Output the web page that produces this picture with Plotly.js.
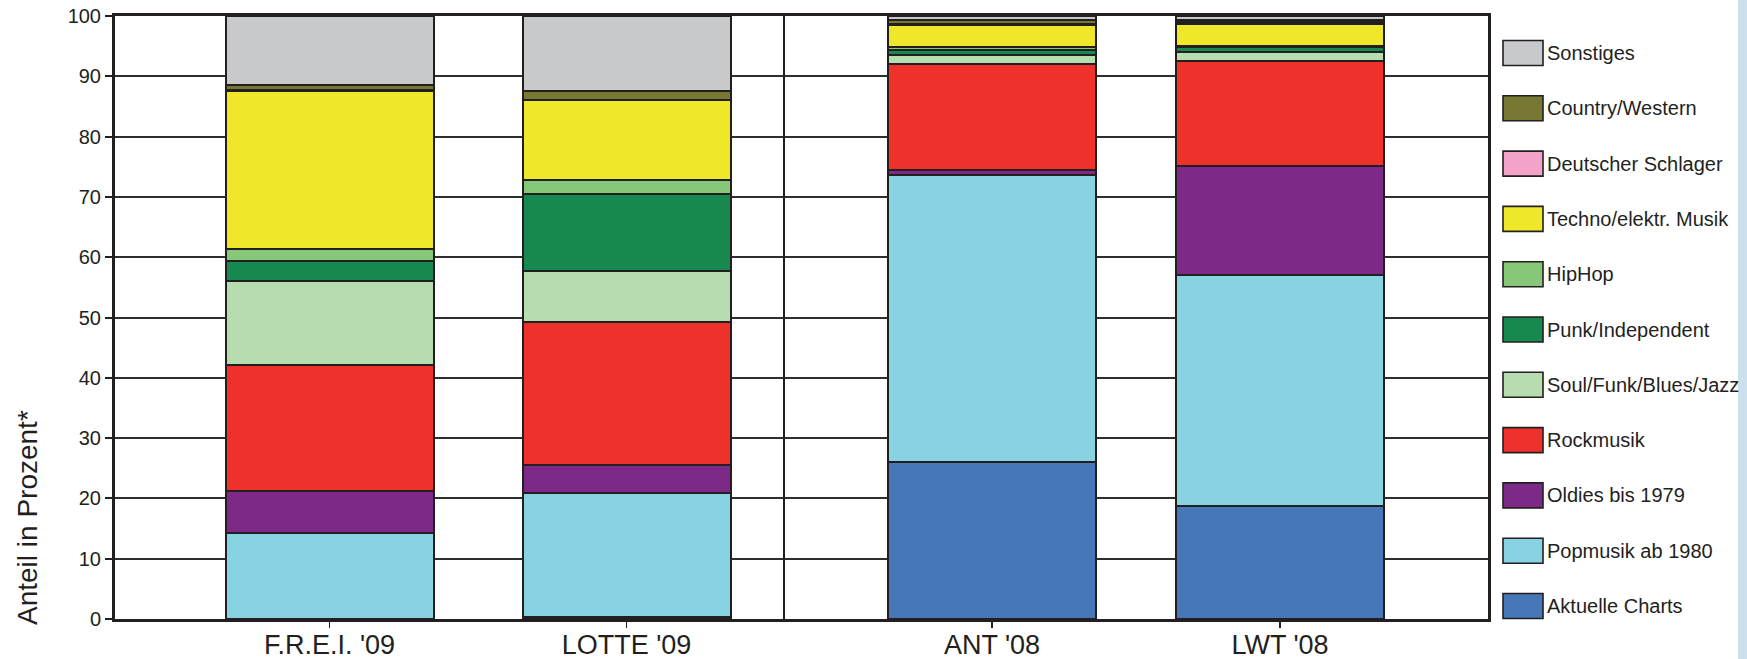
<!DOCTYPE html>
<html>
<head>
<meta charset="utf-8">
<script src="https://cdn.plot.ly/plotly-3.0.1.min.js"></script>
<style>
html,body{margin:0;padding:0;background:#fff;}
#chart{width:1747px;height:659px;}
</style>
</head>
<body>
<div id="chart"></div>
<script>
// ---- data ----
const categories = ["F.R.E.I. '09", "LOTTE '09", "ANT '08", "LWT '08"];
const seriesNames = [
  "Aktuelle Charts",
  "Popmusik ab 1980",
  "Oldies bis 1979",
  "Rockmusik",
  "Soul/Funk/Blues/Jazz",
  "Punk/Independent",
  "HipHop",
  "Techno/elektr. Musik",
  "Deutscher Schlager",
  "Country/Western",
  "Sonstiges"
];
const aktuelleCharts   = [0,    0.3,  26.0, 18.8];
const popmusik         = [14.3, 20.6, 47.7, 38.2];
const oldies           = [6.9,  4.7,  0.8,  18.1];
const rockmusik        = [21.0, 23.7, 17.6, 17.4];
const soulFunk         = [13.9, 8.4,  1.5,  1.5];
const punkIndependent  = [3.3,  12.8, 0.7,  0.8];
const hiphop           = [2.0,  2.3,  0.6,  0.2];
const techno           = [26.1, 13.3, 3.6,  3.7];
const schlager         = [0.2,  0,    0.2,  0.3];
const country          = [0.9,  1.5,  0.6,  0.4];
const sonstiges        = [11.4, 12.4, 0.7,  0.6];
const seriesValues = [aktuelleCharts, popmusik, oldies, rockmusik, soulFunk,
  punkIndependent, hiphop, techno, schlager, country, sonstiges];
const yTicks = [0, 10, 20, 30, 40, 50, 60, 70, 80, 90, 100];

// ---- styles / layout constants ----
const colors = ["#4677b9", "#87d3e1", "#7d2988", "#ee312a", "#b7dcb0",
  "#17884e", "#86c878", "#efe82a", "#f3a3c8", "#777933", "#c8c9cb"];
const xPos = [2.145, 5.115, 8.77, 11.65];   // bar centres on the x axis
const barWidth = 2.08;
const separatorX = 6.69;
const ink = "#231f20";
const FONT = "Liberation Sans, Arial, Helvetica, sans-serif";

const traces = seriesNames.map((name, i) => ({
  type: "bar",
  name: name,
  x: xPos,
  y: seriesValues[i].map(v => v === 0 ? null : v),
  width: barWidth,
  marker: {color: colors[i], line: {color: ink, width: 2}},
  hoverinfo: "name+y"
}));

// custom legend (swatch + text), drawn from the series names/colours
const W = 1747, H = 659;
const mL = 115, mR = 259, mT = 16, mB = 40;
const pw = W - mL - mR, ph = H - mT - mB;
const shapes = [];
const annotations = [];
const order = seriesNames.map((_, i) => i).reverse();
order.forEach((si, k) => {
  const yc = 53 + k * 55.3;           // pixel centre
  const py = (H - mB - yc) / ph;
  const hh = 12.5 / ph;
  shapes.push({
    type: "rect", xref: "paper", yref: "paper",
    x0: (1503 - mL) / pw, x1: (1543 - mL) / pw, y0: py - hh, y1: py + hh,
    fillcolor: colors[si], line: {color: ink, width: 1.6}
  });
  annotations.push({
    xref: "paper", yref: "paper", x: (1545 - mL) / pw, y: py,
    xanchor: "left", yanchor: "middle", showarrow: false,
    text: seriesNames[si], font: {family: FONT, size: 20, color: ink}
  });
});
// separator between 2009 and 2008 groups
shapes.push({type: "line", xref: "x", yref: "paper", x0: separatorX, x1: separatorX,
  y0: 0, y1: 1, line: {color: ink, width: 2}});
// light blue strip at the right edge
shapes.push({type: "rect", xref: "paper", yref: "paper", layer: "below",
  x0: (1738 - mL) / pw, x1: (1760 - mL) / pw, y0: -0.2, y1: 1.2,
  fillcolor: "#cde1ec", line: {width: 0}});
// y axis title as an annotation (placed low as in the original)
annotations.push({
  xref: "paper", yref: "paper", x: (27 - mL) / pw, y: (H - mB - 517) / ph,
  xanchor: "center", yanchor: "middle", textangle: -90, showarrow: false,
  text: "Anteil in Prozent*", font: {family: FONT, size: 28, color: ink}
});

const layout = {
  width: W, height: H,
  margin: {l: mL, r: mR, t: mT, b: mB, pad: 0},
  paper_bgcolor: "#ffffff", plot_bgcolor: "#ffffff",
  barmode: "stack",
  showlegend: false,
  font: {family: FONT, color: ink},
  xaxis: {
    range: [0, pw / 100],
    tickvals: xPos, ticktext: categories,
    ticks: "outside", ticklen: 6, tickwidth: 1.5, tickcolor: ink,
    tickfont: {family: FONT, size: 27, color: ink},
    ticklabelstandoff: -6,
    showgrid: false, zeroline: false,
    showline: true, linecolor: ink, linewidth: 3, mirror: true,
    fixedrange: true
  },
  yaxis: {
    range: [0, 100],
    tickvals: yTicks,
    ticks: "outside", ticklen: 7, tickwidth: 2, tickcolor: ink,
    tickfont: {family: FONT, size: 20, color: ink},
    showgrid: true, gridcolor: "#2e2e2e", gridwidth: 2,
    zeroline: false,
    showline: true, linecolor: ink, linewidth: 3, mirror: true,
    fixedrange: true
  },
  shapes: shapes,
  annotations: annotations
};

Plotly.newPlot("chart", traces, layout, {displayModeBar: false, staticPlot: true});
</script>
</body>
</html>
